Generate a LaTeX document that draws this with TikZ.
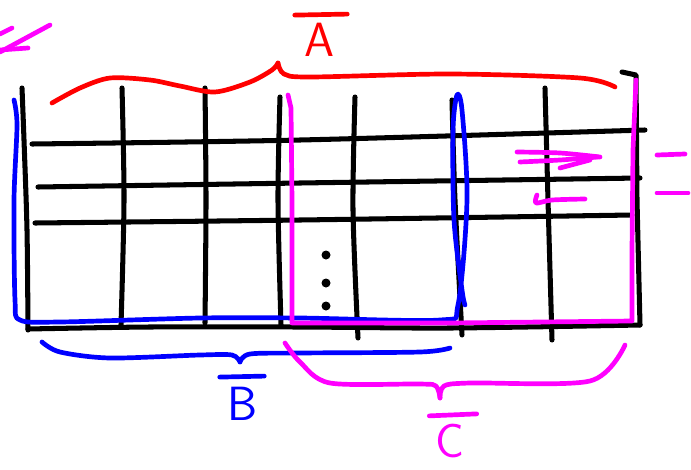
\documentclass[tikz,border=0pt]{standalone}
\usetikzlibrary{positioning}
\definecolor{penred}{HTML}{FF0000}
\definecolor{penblue}{HTML}{0000FF}
\definecolor{penpink}{HTML}{FF00FF}

\begin{document}
\begin{tikzpicture}[x=0.03cm, y=-0.03cm, line cap=round, line join=round,
  grid/.style={draw=black, line width=4.3pt},
  stroke/.style={line width=4pt},
  label/.style={font=\fontsize{41}{41}\selectfont\sffamily, inner sep=0pt}]
  \useasboundingbox (0,0) rectangle (691,469);

  % table grid
  \draw[grid] plot[smooth] coordinates {(22,88) (24,140) (27,230) (28,330)};
  \draw[grid] plot[smooth] coordinates {(28,329) (150,327) (300,327) (450,328) (640,325)};
  \draw[grid] (622,72) -- (636,75) -- (637,200) -- (640,325);
  \draw[grid] plot[smooth] coordinates {(122,88) (124,200) (121,325)};
  \draw[grid] plot[smooth] coordinates {(205,88) (206,200) (205,323)};
  \draw[grid] plot[smooth] coordinates {(280,97) (278,200) (281,325)};
  \draw[grid] plot[smooth] coordinates {(355,97) (353,210) (358,338)};
  \draw[grid] plot[smooth] coordinates {(452,100) (455,200) (462,335)};
  \draw[grid] plot[smooth] coordinates {(545,88) (548,200) (552,340)};
  \draw[grid] plot[smooth] coordinates {(32,144) (300,140) (645,130)};
  \draw[grid] plot[smooth] coordinates {(38,187) (300,183) (640,178)};
  \draw[grid] plot[smooth] coordinates {(35,223) (300,220) (632,215)};
  \foreach \y in {255,283,306}
    \fill (326,\y) circle (4.5);

  % A
  \draw[stroke, penred] plot[smooth] coordinates {(52,103) (80,88) (110,78) (150,80)
    (180,86) (215,92) (250,82) (272,70) (278,63)};
  \draw[stroke, penred] plot[smooth] coordinates {(278,63) (284,74) (310,77) (450,74)
    (580,78) (615,87)};
  \node[label, text=penred] (labA) at (320,40) {A};
  \draw[stroke, penred] ([shift={(-10,-8)}]labA.north west) -- ([shift={(12,-9)}]labA.north east);

  % B
  \draw[stroke, penblue] plot[smooth] coordinates {(14,100) (17,125) (14,200) (15,300)
    (20,320) (60,322) (200,318) (300,318) (440,320) (458,305) (467,200) (462,110)
    (457,95) (453,130) (454,220) (462,290) (465,305)};
  \draw[stroke, penblue] plot[smooth] coordinates {(42,342) (60,352) (110,358) (200,355)
    (232,355) (240,362)};
  \draw[stroke, penblue] plot[smooth] coordinates {(240,362) (250,354) (300,353)
    (420,352) (450,348)};
  \node[label, text=penblue] (labB) at (243,404) {B};
  \draw[stroke, penblue] ([shift={(-8,-10)}]labB.north west) -- ([shift={(6,-11)}]labB.north east);

  % C
  \draw[stroke, penpink] (288,95) -- (291,108) -- (292,200) -- (292,323)
    -- (450,323) -- (632,321) -- (632,250) -- (633,150) -- (636,80);
  \draw[stroke, penpink] plot[smooth] coordinates {(285,343) (300,362) (330,383)
    (420,384) (436,386) (440,398)};
  \draw[stroke, penpink] plot[smooth] coordinates {(440,398) (444,386) (470,383)
    (590,381) (625,345)};
  \node[label, text=penpink] (labC) at (450,441) {C};
  \draw[stroke, penpink] ([shift={(-6,-8)}]labC.north west) -- ([shift={(12,-10)}]labC.north east);

  % pink marks
  \draw[stroke, penpink] (50,25) -- (0,52);
  \draw[stroke, penpink] (0,50) -- (28,48);
  \draw[stroke, penpink] (0,34) -- (12,28);
  \draw[stroke, penpink] plot[smooth] coordinates {(517,152) (560,153) (600,157)};
  \draw[stroke, penpink] plot[smooth] coordinates {(520,162) (560,160) (598,157)};
  \draw[stroke, penpink] plot[smooth] coordinates {(560,168) (590,160)};
  \draw[stroke, penpink] plot[smooth] coordinates {(537,195) (536,203) (552,200) (585,199)};
  \draw[stroke, penpink] (657,155) -- (685,154);
  \draw[stroke, penpink] (657,193) -- (688,193);
\end{tikzpicture}
\end{document}
